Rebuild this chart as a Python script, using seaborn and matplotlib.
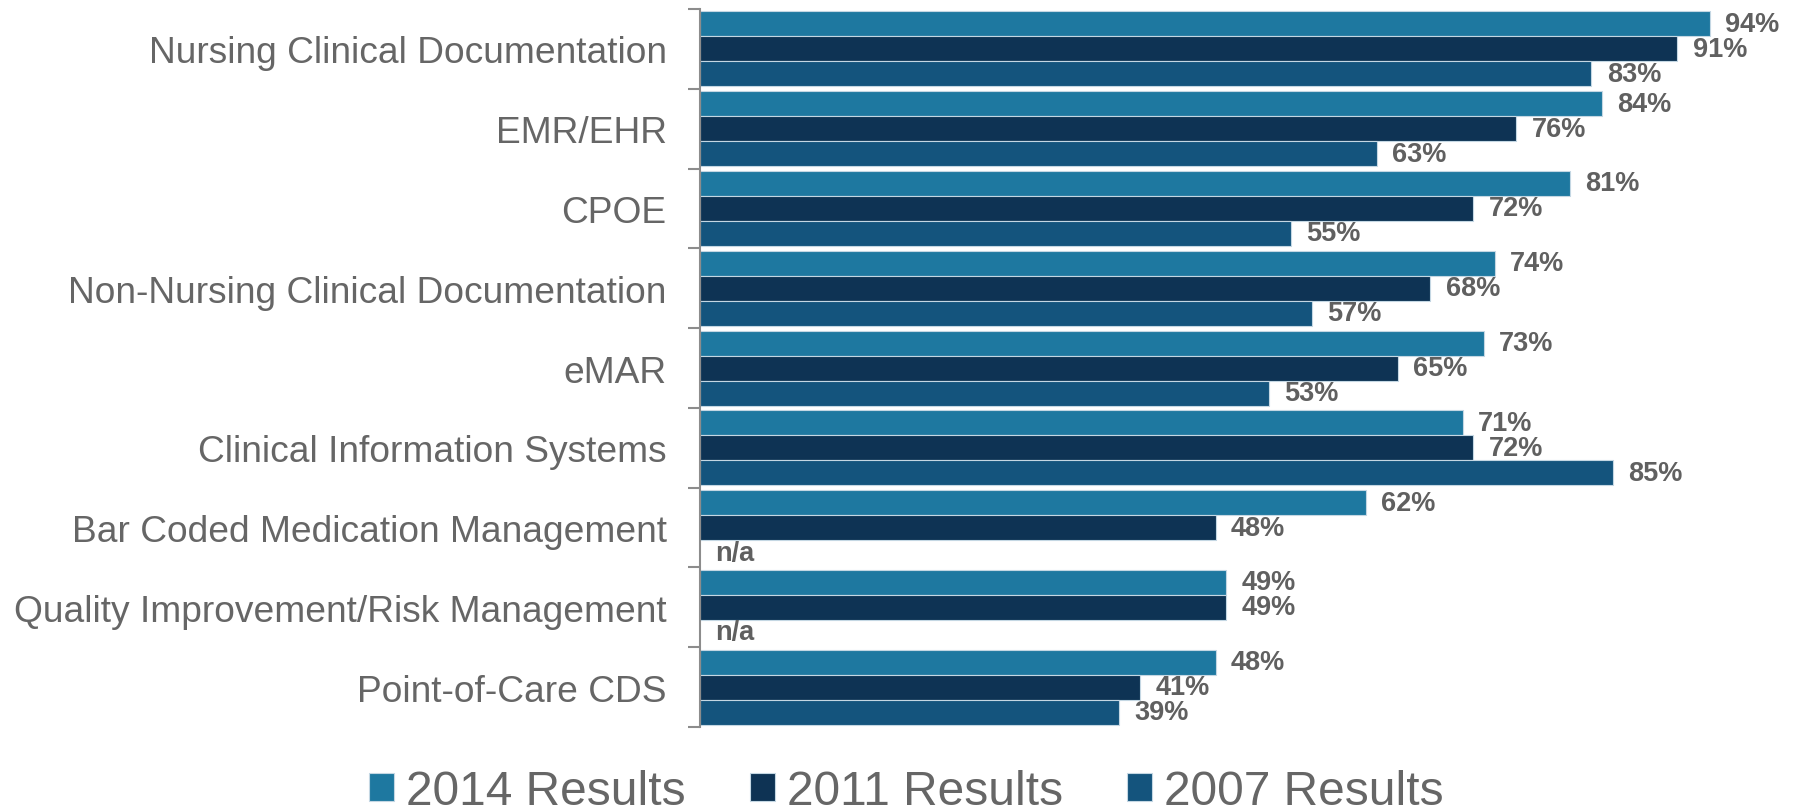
import numpy as np
import pandas as pd
import matplotlib
matplotlib.use("Agg")
import matplotlib.pyplot as plt
import seaborn as sns

categories = [
    "Nursing Clinical Documentation",
    "EMR/EHR",
    "CPOE",
    "Non-Nursing Clinical Documentation",
    "eMAR",
    "Clinical Information Systems",
    "Bar Coded Medication Management",
    "Quality Improvement/Risk Management",
    "Point-of-Care CDS",
]
series = ["2014 Results", "2011 Results", "2007 Results"]
r2014 = [94, 84, 81, 74, 73, 71, 62, 49, 48]
r2011 = [91, 76, 72, 68, 65, 72, 48, 49, 41]
r2007 = [83, 63, 55, 57, 53, 85, np.nan, np.nan, 39]
colors = ["#1e78a0", "#0e3354", "#14547d"]

df = pd.DataFrame({
    "category": categories * 3,
    "series": np.repeat(series, len(categories)),
    "value": r2014 + r2011 + r2007,
})
# n/a bars drawn as zero length and labelled "n/a"
df["plot_value"] = df["value"].fillna(0)

sns.set_style("white")
plt.rcParams["font.family"] = ["Liberation Sans", "DejaVu Sans"]

fig = plt.figure(figsize=(17.93, 8.12), dpi=100)
ax = fig.add_axes([0.3904, 0.1034, 0.599, 0.8843])

sns.barplot(data=df, x="plot_value", y="category", hue="series",
            order=categories, hue_order=series, palette=colors, saturation=1,
            width=0.94, edgecolor="#c4d7e3", linewidth=0.8,
            orient="h", ax=ax, legend=True)

for cont, vals in zip(ax.containers, [r2014, r2011, r2007]):
    labels = []
    for patch, v in zip(cont, vals):
        if np.isnan(v):
            patch.set_linewidth(0)
            labels.append("n/a")
        else:
            labels.append(f"{v:.0f}%")
    ax.bar_label(cont, labels=labels, padding=11, fontsize=19.5,
                 fontweight="bold", color="#606060")

ax.set_xlim(0, 100)
ax.set_ylim(len(categories) - 0.5, -0.5)
ax.set_xlabel("")
ax.set_ylabel("")
ax.set_xticks([])
for s in ["top", "right", "bottom"]:
    ax.spines[s].set_visible(False)
ax.spines["left"].set_color("#8c8c8c")
ax.spines["left"].set_linewidth(1.5)

ax.tick_params(axis="y", which="major", left=False, length=0, pad=24,
               labelsize=26.7, labelcolor="#666666")
ax.set_yticks(np.arange(len(categories) + 1) - 0.5, minor=True)
ax.tick_params(axis="y", which="minor", left=True, length=9, width=1.5,
               color="#8c8c8c")

ax.get_legend().remove()
handles, labels = ax.get_legend_handles_labels()
fig.legend(handles[:3], labels[:3], loc="center", bbox_to_anchor=(0.5055, 0.024),
           ncol=3, frameon=False, fontsize=34.5, labelcolor="#666666",
           handlelength=0.52, handleheight=0.52, handletextpad=0.24,
           columnspacing=1.35, borderaxespad=0)

fig.savefig("out.png", dpi=100)
